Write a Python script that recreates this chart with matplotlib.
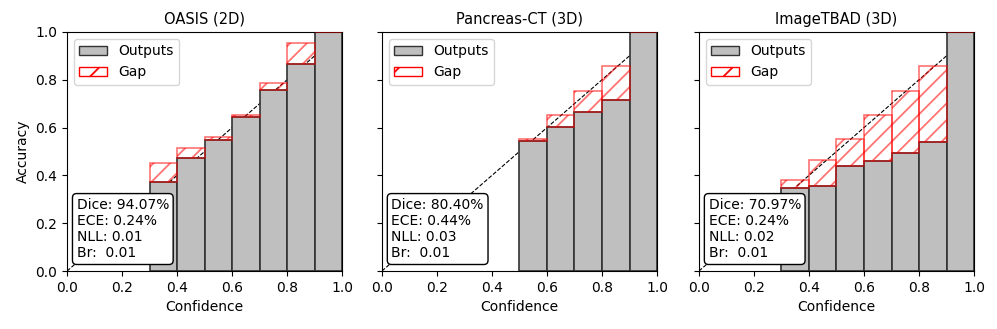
import matplotlib.pyplot as plt
from matplotlib.patches import Patch

# --- Data ---
titles = ["OASIS (2D)", "Pancreas-CT (3D)", "ImageTBAD (3D)"]

bin_width = 0.1

# left edges of the non-empty bins per panel
oasis_bins = [0.3, 0.4, 0.5, 0.6, 0.7, 0.8, 0.9]
oasis_acc = [0.371, 0.474, 0.548, 0.643, 0.757, 0.866, 1.0]
oasis_conf = [0.450, 0.513, 0.559, 0.653, 0.788, 0.953, 1.0]

pancreas_bins = [0.5, 0.6, 0.7, 0.8, 0.9]
pancreas_acc = [0.544, 0.604, 0.664, 0.715, 1.0]
pancreas_conf = [0.551, 0.653, 0.753, 0.856, 1.0]

tbad_bins = [0.3, 0.4, 0.5, 0.6, 0.7, 0.8, 0.9]
tbad_acc = [0.346, 0.354, 0.439, 0.459, 0.494, 0.538, 1.0]
tbad_conf = [0.379, 0.463, 0.551, 0.653, 0.753, 0.856, 1.0]

metrics = [
    "Dice: 94.07%\nECE: 0.24%\nNLL: 0.01\nBr:  0.01",
    "Dice: 80.40%\nECE: 0.44%\nNLL: 0.03\nBr:  0.01",
    "Dice: 70.97%\nECE: 0.24%\nNLL: 0.02\nBr:  0.01",
]

panels = [
    (oasis_bins, oasis_acc, oasis_conf),
    (pancreas_bins, pancreas_acc, pancreas_conf),
    (tbad_bins, tbad_acc, tbad_conf),
]

# --- Plotting ---
plt.rcParams['hatch.linewidth'] = 1.3
fig = plt.figure(figsize=(9.97, 3.29), dpi=100)
lefts = [0.0672, 0.383, 0.701]

for i, (bins, acc, conf) in enumerate(panels):
    ax = fig.add_axes([lefts[i], 0.176, 0.276, 0.727])

    ax.plot([0, 1], [0, 1], linestyle='--', color='black', lw=0.8, zorder=1)

    ax.bar(bins, acc, width=bin_width, align='edge', color='#bfbfbf',
           edgecolor='#333333', lw=1.2, zorder=2)

    gaps = [c - a for a, c in zip(acc, conf)]
    ax.bar(bins, gaps, bottom=acc, width=bin_width, align='edge',
           facecolor='none', edgecolor=(1, 0, 0, 0.55), hatch='//', lw=1.2,
           zorder=3)

    ax.set_xlim(0, 1)
    ax.set_ylim(0, 1)
    ax.set_xticks([0, 0.2, 0.4, 0.6, 0.8, 1.0])
    ax.set_yticks([0, 0.2, 0.4, 0.6, 0.8, 1.0])
    ax.tick_params(labelsize=10)
    ax.set_xlabel("Confidence", fontsize=10)
    ax.set_title(titles[i], fontsize=10.5)
    if i == 0:
        ax.set_ylabel("Accuracy", fontsize=10)
    else:
        ax.set_yticklabels([])

    handles = [
        Patch(facecolor='#bfbfbf', edgecolor='#333333', label='Outputs'),
        Patch(facecolor='none', edgecolor='red', hatch='/', label='Gap'),
    ]
    ax.legend(handles=handles, loc='upper left', fontsize=10)

    ax.text(0.035, 0.045, metrics[i], transform=ax.transAxes, fontsize=10,
            ha='left', va='bottom', zorder=5,
            bbox=dict(boxstyle='round,pad=0.3', facecolor='white', edgecolor='black'))

plt.savefig("out.png", dpi=100)
